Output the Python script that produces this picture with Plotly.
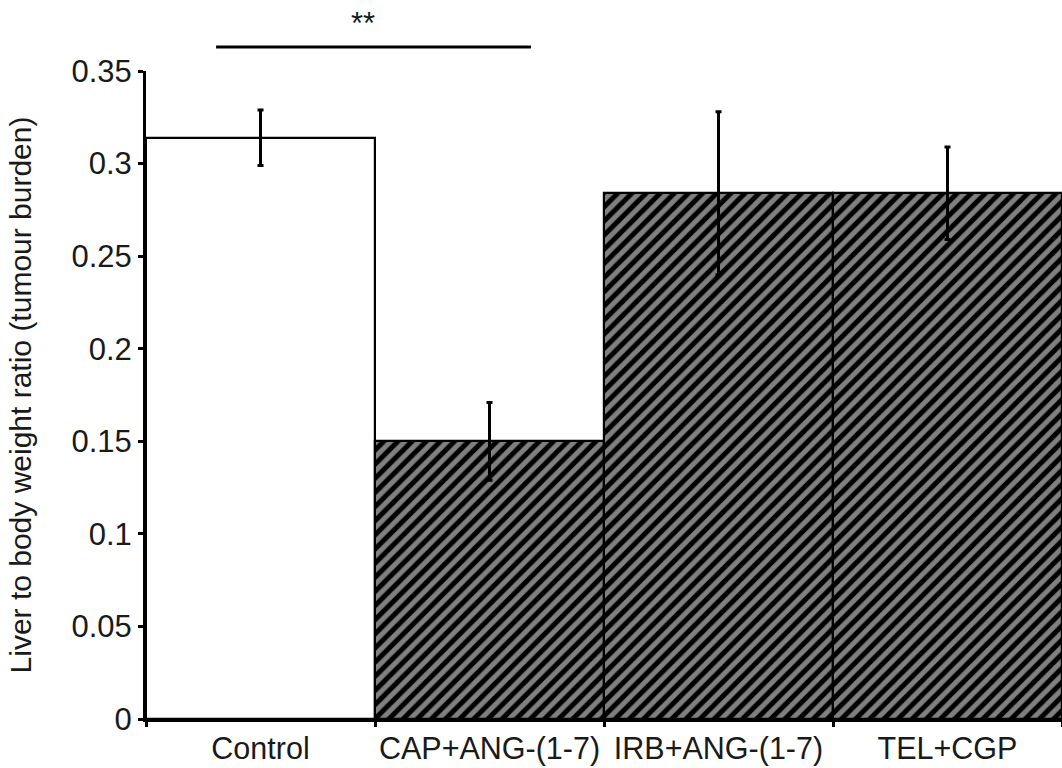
import plotly.graph_objects as go

categories = ["Control", "CAP+ANG-(1-7)", "IRB+ANG-(1-7)", "TEL+CGP"]
means = [0.314, 0.150, 0.284, 0.284]
errors = [0.015, 0.021, 0.044, 0.025]
y_ticks = [0, 0.05, 0.1, 0.15, 0.2, 0.25, 0.3, 0.35]

FONT = "Liberation Sans, Arial, sans-serif"
FS = 31

fig = go.Figure()
# Control bar: white fill
fig.add_trace(go.Bar(
    x=categories[:1],
    y=means[:1],
    width=1,
    marker=dict(color="white", line=dict(color="black", width=2.2)),
    error_y=dict(type="data", array=errors[:1], color="black", thickness=3, width=3),
    showlegend=False,
))
# Treatment bars: grey with black diagonal hatching
fig.add_trace(go.Bar(
    x=categories[1:],
    y=means[1:],
    width=1,
    marker=dict(
        color="#808080",
        line=dict(color="black", width=2.2),
        pattern=dict(shape="/", fgcolor="black", bgcolor="#808080", size=10, solidity=0.5,
                     fillmode="overlay", fgopacity=1),
    ),
    error_y=dict(type="data", array=errors[1:], color="black", thickness=3, width=3),
    showlegend=False,
))

fig.update_layout(
    width=1062,
    height=768,
    margin=dict(l=146, r=0, t=71, b=49, autoexpand=False),
    plot_bgcolor="white",
    paper_bgcolor="white",
    barmode="overlay",
    bargap=0,
    font=dict(family=FONT, size=FS, color="#1a1a1a"),
    xaxis=dict(
        type="category",
        categoryorder="array",
        categoryarray=categories,
        range=[-0.5, 3.5],
        showline=True,
        linecolor="black",
        linewidth=3,
        ticks="outside",
        tickson="boundaries",
        ticklen=5,
        tickwidth=2.5,
        tickcolor="black",
        showgrid=False,
        automargin=False,
        tickangle=0,
        tickfont=dict(size=30.5, family=FONT),
    ),
    yaxis=dict(
        range=[0, 0.35],
        tickvals=y_ticks,
        showline=True,
        linecolor="black",
        linewidth=3,
        ticks="outside",
        ticklen=5,
        tickwidth=2.5,
        tickcolor="black",
        showgrid=False,
        zeroline=False,
        automargin=False,
        tickfont=dict(size=FS, family=FONT),
        title=dict(text="Liver to body weight ratio (tumour burden)", font=dict(size=30, family=FONT), standoff=31),
    ),
    shapes=[dict(type="line", xref="x", yref="paper", x0=-0.194, x1=1.181, y0=1.037, y1=1.037,
                 line=dict(color="black", width=3))],
    annotations=[dict(text="**", xref="x", yref="paper", x=0.448, y=1.104, showarrow=False,
                      font=dict(size=FS, family=FONT, color="#1a1a1a"))],
)

fig.write_html("out.html", config={"displayModeBar": False},
               post_script="document.body.style.margin='0';")
